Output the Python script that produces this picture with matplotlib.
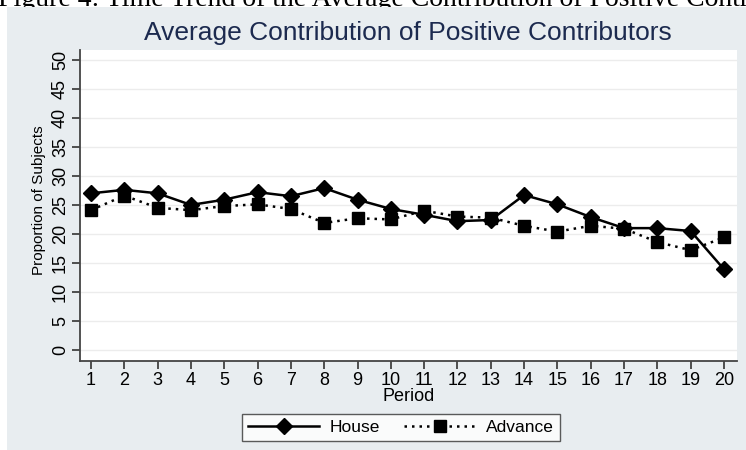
import matplotlib
matplotlib.use("Agg")
import matplotlib.pyplot as plt
from matplotlib.patches import Rectangle

# data
periods = list(range(1, 21))
house = [27.0, 27.6, 27.0, 25.0, 25.9, 27.2, 26.5, 27.9, 25.9, 24.3,
         23.3, 22.2, 22.4, 26.7, 25.1, 22.9, 21.0, 21.0, 20.5, 13.9]
advance = [24.1, 26.6, 24.5, 24.1, 24.8, 25.1, 24.3, 21.9, 22.7, 22.5,
           24.0, 23.0, 22.8, 21.4, 20.4, 21.4, 20.9, 18.6, 17.2, 19.4]
yticks = list(range(0, 55, 5))

W, H = 746, 450
bg = '#e8edf0'

plt.rcParams['font.family'] = ['Liberation Sans', 'DejaVu Sans']
fig = plt.figure(figsize=(W / 100, H / 100), dpi=100)
fig.patch.set_facecolor('white')

# cropped caption of the page above the graph
fig.text(-0.003, 1 - 6 / H, 'Figure 4: Time Trend of the Average Contribution of Positive Contributors',
         family='Liberation Serif', fontsize=20, va='baseline', ha='left', color='black',
         zorder=0.5)

# stata graph region
fig.patches.append(Rectangle((7 / W, 0), 1, 1 - 7 / H, transform=fig.transFigure,
                             facecolor=bg, edgecolor='none', zorder=1))

ax = fig.add_axes([80 / W, 1 - 361 / H, (737 - 80) / W, (361 - 50) / H])
ax.set_facecolor('white')
ax.set_zorder(2)

ax.plot(periods, house, color='black', lw=1.8, marker='D', ms=8, label='House')
ax.plot(periods, advance, color='black', lw=1.8, ls=(0, (1, 2)), marker='s', ms=8,
        label='Advance')

ax.set_xlim(0.67, 20.39)
ax.set_ylim(-1.9, 51.7)
ax.set_xticks(periods)
ax.set_yticks(yticks)
ax.set_yticklabels([str(v) for v in yticks], rotation=90, va='center')
ax.tick_params(labelsize=13, length=6, width=1.2, color='#333333', direction='out', pad=2)
ax.grid(axis='y', color='#ececec', lw=1)
ax.set_axisbelow(True)
for s in ['top', 'right']:
    ax.spines[s].set_visible(False)
for s in ['left', 'bottom']:
    ax.spines[s].set_color('#444444')
    ax.spines[s].set_linewidth(1.3)

ax.set_xlabel('Period', fontsize=13, labelpad=-1)
ax.set_ylabel('Proportion of Subjects', fontsize=11)
ax.yaxis.set_label_coords(-34 / (737 - 80), (361 - 200) / (361 - 50))

fig.text(408 / W, 1 - 33 / H, 'Average Contribution of Positive Contributors',
         fontsize=19, color='#1c2a4f', ha='center', va='center', zorder=3)

leg = fig.legend(loc='center', bbox_to_anchor=(401 / W, 1 - 427.5 / H), ncol=2,
                 fontsize=12.5, frameon=True, fancybox=False, edgecolor='#333333',
                 handlelength=4.1, columnspacing=1.4, borderpad=0.35, handletextpad=0.6)
leg.get_frame().set_linewidth(1.0)
leg.set_zorder(3)

fig.savefig('out.png', dpi=100, facecolor=fig.get_facecolor())
